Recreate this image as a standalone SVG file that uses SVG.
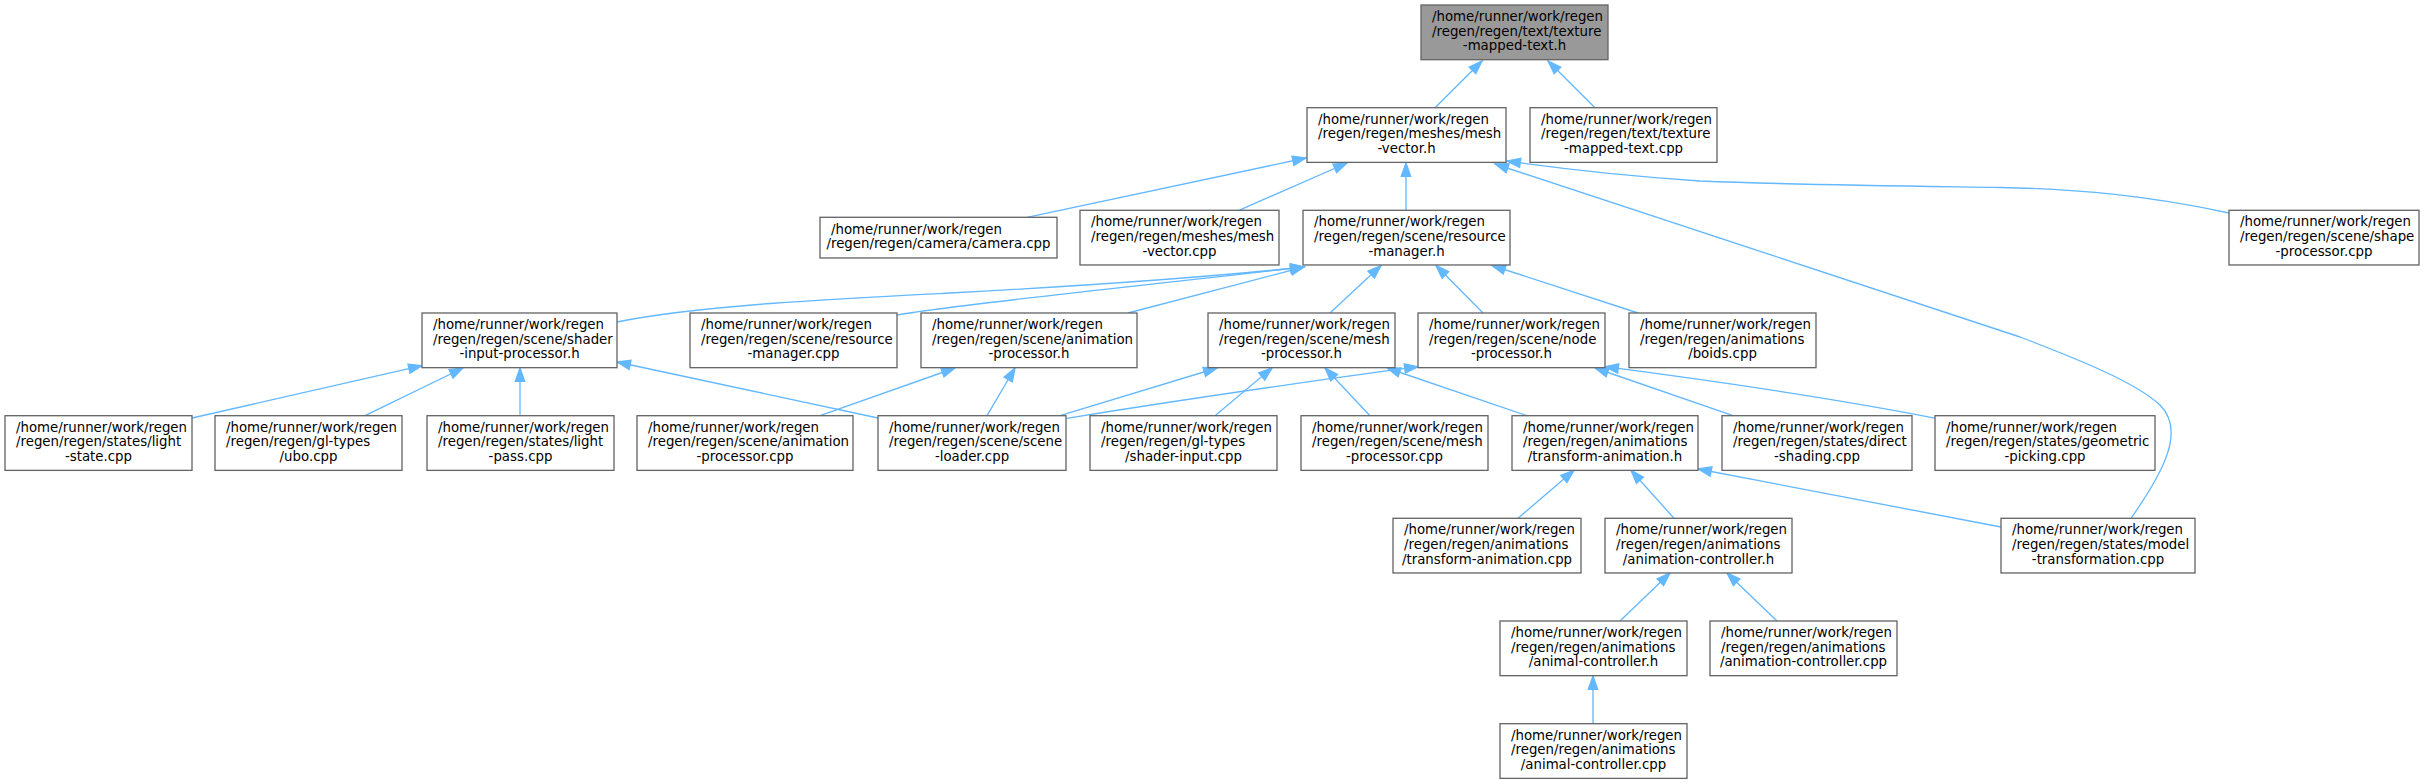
<svg xmlns="http://www.w3.org/2000/svg" width="2424" height="784" viewBox="0 0 2424 784">
<style>
.n rect{fill:#ffffff;stroke:#666666;stroke-width:1.33}
.root rect{fill:#999999}
text{font-family:"DejaVu Sans","Liberation Sans",sans-serif;font-size:13.33px;fill:#000000}
.s{text-anchor:start}
.m{text-anchor:middle}
#edges path{fill:none;stroke:#63b8ff;stroke-width:1.33;marker-end:url(#arr)}
</style>
<defs>
<marker id="arr" markerUnits="userSpaceOnUse" markerWidth="14" markerHeight="10" viewBox="0 0 14 10" refX="13.33" refY="5" orient="auto" overflow="visible">
<path d="M0,0.33 L13.33,5 L0,9.67 z" fill="#63b8ff" stroke="#63b8ff" stroke-width="1.33"/>
</marker>
</defs>
<rect width="2424" height="784" fill="#ffffff"/>
<g id="edges">
<path d="M1435,107.7 L1482,61"/>
<path d="M1595,107.7 L1548,61"/>
<path d="M1027,217.3 L1306,158"/>
<path d="M1239,210.3 L1347,163"/>
<path d="M1406,210.3 L1406,163"/>
<path d="M2229,213 C2150,196 2080,189 2000,187.5 C1900,186 1800,185 1700,181 C1640,177 1570,170 1507,161"/>
<path d="M2131,518.3 C2165,470 2185,430 2160,405 C2135,382 2080,360 2020,337 L1495,164"/>
<path d="M617,322 C700,305 850,298 950,293 C1100,285 1220,276 1304,267"/>
<path d="M897,315 C950,305 1150,285 1304,267"/>
<path d="M1128,313 L1304,267"/>
<path d="M1330,313 L1381,265.5"/>
<path d="M1483,313 L1436,265.5"/>
<path d="M1638,313 L1492,265.5"/>
<path d="M192,418 L422,365.7"/>
<path d="M365,415.7 L463,368"/>
<path d="M520,415.7 L520,368"/>
<path d="M878,418 L617,362"/>
<path d="M820,415.7 L955,368"/>
<path d="M987,415.7 L1015,368"/>
<path d="M1060,415.7 L1217,368"/>
<path d="M1215,415.7 L1272,368"/>
<path d="M1370,415.7 L1325,368"/>
<path d="M1527,415.7 L1387,368"/>
<path d="M1066.7,418.3 Q1230,392 1418,366.7"/>
<path d="M1733,415.7 L1595,368"/>
<path d="M1936,418.3 Q1800,392 1605,366.7"/>
<path d="M1518,518.3 L1574,470.3"/>
<path d="M1674,518.3 L1631,470.3"/>
<path d="M2001,527 L1698,469"/>
<path d="M1620,621 L1670,573"/>
<path d="M1777,621 L1727,573"/>
<path d="M1593,723.7 L1593,676"/>
</g>
<g id="n0" class="n root"><rect x="1421" y="5" width="187" height="54.67"/><text class="s" x="1432" y="21">/home/runner/work/regen</text><text class="s" x="1432" y="35.67">/regen/regen/text/texture</text><text class="m" x="1514.5" y="50.33">-mapped-text.h</text></g>
<g id="n1" class="n"><rect x="1307" y="107.7" width="199" height="54.67"/><text class="s" x="1318" y="123.7">/home/runner/work/regen</text><text class="s" x="1318" y="138.3">/regen/regen/meshes/mesh</text><text class="m" x="1406.5" y="153">-vector.h</text></g>
<g id="n2" class="n"><rect x="1530" y="107.7" width="187" height="54.67"/><text class="s" x="1541" y="123.7">/home/runner/work/regen</text><text class="s" x="1541" y="138.3">/regen/regen/text/texture</text><text class="m" x="1623.5" y="153">-mapped-text.cpp</text></g>
<g id="n3" class="n"><rect x="820" y="217.3" width="237" height="40.67"/><text class="s" x="831" y="233.7">/home/runner/work/regen</text><text class="m" x="938.5" y="248.3">/regen/regen/camera/camera.cpp</text></g>
<g id="n4" class="n"><rect x="1080" y="210.3" width="199" height="54.67"/><text class="s" x="1091" y="226.3">/home/runner/work/regen</text><text class="s" x="1091" y="241">/regen/regen/meshes/mesh</text><text class="m" x="1179.5" y="255.7">-vector.cpp</text></g>
<g id="n5" class="n"><rect x="1303" y="210.3" width="207" height="54.67"/><text class="s" x="1314" y="226.3">/home/runner/work/regen</text><text class="s" x="1314" y="241">/regen/regen/scene/resource</text><text class="m" x="1406.5" y="255.7">-manager.h</text></g>
<g id="n6" class="n"><rect x="2229" y="210.3" width="190" height="54.67"/><text class="s" x="2240" y="226.3">/home/runner/work/regen</text><text class="s" x="2240" y="241">/regen/regen/scene/shape</text><text class="m" x="2324" y="255.7">-processor.cpp</text></g>
<g id="n7" class="n"><rect x="422" y="313" width="195" height="54.67"/><text class="s" x="433" y="329">/home/runner/work/regen</text><text class="s" x="433" y="343.7">/regen/regen/scene/shader</text><text class="m" x="519.5" y="358.3">-input-processor.h</text></g>
<g id="n8" class="n"><rect x="690" y="313" width="207" height="54.67"/><text class="s" x="701" y="329">/home/runner/work/regen</text><text class="s" x="701" y="343.7">/regen/regen/scene/resource</text><text class="m" x="793.5" y="358.3">-manager.cpp</text></g>
<g id="n9" class="n"><rect x="921" y="313" width="216" height="54.67"/><text class="s" x="932" y="329">/home/runner/work/regen</text><text class="s" x="932" y="343.7">/regen/regen/scene/animation</text><text class="m" x="1029" y="358.3">-processor.h</text></g>
<g id="n10" class="n"><rect x="1208" y="313" width="187" height="54.67"/><text class="s" x="1219" y="329">/home/runner/work/regen</text><text class="s" x="1219" y="343.7">/regen/regen/scene/mesh</text><text class="m" x="1301.5" y="358.3">-processor.h</text></g>
<g id="n11" class="n"><rect x="1418" y="313" width="187" height="54.67"/><text class="s" x="1429" y="329">/home/runner/work/regen</text><text class="s" x="1429" y="343.7">/regen/regen/scene/node</text><text class="m" x="1511.5" y="358.3">-processor.h</text></g>
<g id="n12" class="n"><rect x="1629" y="313" width="187" height="54.67"/><text class="s" x="1640" y="329">/home/runner/work/regen</text><text class="s" x="1640" y="343.7">/regen/regen/animations</text><text class="m" x="1722.5" y="358.3">/boids.cpp</text></g>
<g id="n13" class="n"><rect x="5" y="415.7" width="187" height="54.67"/><text class="s" x="16" y="431.7">/home/runner/work/regen</text><text class="s" x="16" y="446.3">/regen/regen/states/light</text><text class="m" x="98.5" y="461">-state.cpp</text></g>
<g id="n14" class="n"><rect x="215" y="415.7" width="187" height="54.67"/><text class="s" x="226" y="431.7">/home/runner/work/regen</text><text class="s" x="226" y="446.3">/regen/regen/gl-types</text><text class="m" x="308.5" y="461">/ubo.cpp</text></g>
<g id="n15" class="n"><rect x="427" y="415.7" width="187" height="54.67"/><text class="s" x="438" y="431.7">/home/runner/work/regen</text><text class="s" x="438" y="446.3">/regen/regen/states/light</text><text class="m" x="520.5" y="461">-pass.cpp</text></g>
<g id="n16" class="n"><rect x="637" y="415.7" width="216" height="54.67"/><text class="s" x="648" y="431.7">/home/runner/work/regen</text><text class="s" x="648" y="446.3">/regen/regen/scene/animation</text><text class="m" x="745" y="461">-processor.cpp</text></g>
<g id="n17" class="n"><rect x="878" y="415.7" width="188" height="54.67"/><text class="s" x="889" y="431.7">/home/runner/work/regen</text><text class="s" x="889" y="446.3">/regen/regen/scene/scene</text><text class="m" x="972" y="461">-loader.cpp</text></g>
<g id="n18" class="n"><rect x="1090" y="415.7" width="187" height="54.67"/><text class="s" x="1101" y="431.7">/home/runner/work/regen</text><text class="s" x="1101" y="446.3">/regen/regen/gl-types</text><text class="m" x="1183.5" y="461">/shader-input.cpp</text></g>
<g id="n19" class="n"><rect x="1301" y="415.7" width="187" height="54.67"/><text class="s" x="1312" y="431.7">/home/runner/work/regen</text><text class="s" x="1312" y="446.3">/regen/regen/scene/mesh</text><text class="m" x="1394.5" y="461">-processor.cpp</text></g>
<g id="n20" class="n"><rect x="1512" y="415.7" width="186" height="54.67"/><text class="s" x="1523" y="431.7">/home/runner/work/regen</text><text class="s" x="1523" y="446.3">/regen/regen/animations</text><text class="m" x="1605" y="461">/transform-animation.h</text></g>
<g id="n21" class="n"><rect x="1722" y="415.7" width="190" height="54.67"/><text class="s" x="1733" y="431.7">/home/runner/work/regen</text><text class="s" x="1733" y="446.3">/regen/regen/states/direct</text><text class="m" x="1817" y="461">-shading.cpp</text></g>
<g id="n22" class="n"><rect x="1935" y="415.7" width="220" height="54.67"/><text class="s" x="1946" y="431.7">/home/runner/work/regen</text><text class="s" x="1946" y="446.3">/regen/regen/states/geometric</text><text class="m" x="2045" y="461">-picking.cpp</text></g>
<g id="n23" class="n"><rect x="1393" y="518.3" width="188" height="54.67"/><text class="s" x="1404" y="534.3">/home/runner/work/regen</text><text class="s" x="1404" y="549">/regen/regen/animations</text><text class="m" x="1487" y="563.7">/transform-animation.cpp</text></g>
<g id="n24" class="n"><rect x="1605" y="518.3" width="187" height="54.67"/><text class="s" x="1616" y="534.3">/home/runner/work/regen</text><text class="s" x="1616" y="549">/regen/regen/animations</text><text class="m" x="1698.5" y="563.7">/animation-controller.h</text></g>
<g id="n25" class="n"><rect x="2001" y="518.3" width="194" height="54.67"/><text class="s" x="2012" y="534.3">/home/runner/work/regen</text><text class="s" x="2012" y="549">/regen/regen/states/model</text><text class="m" x="2098" y="563.7">-transformation.cpp</text></g>
<g id="n26" class="n"><rect x="1500" y="621" width="187" height="54.67"/><text class="s" x="1511" y="637">/home/runner/work/regen</text><text class="s" x="1511" y="651.7">/regen/regen/animations</text><text class="m" x="1593.5" y="666.3">/animal-controller.h</text></g>
<g id="n27" class="n"><rect x="1710" y="621" width="187" height="54.67"/><text class="s" x="1721" y="637">/home/runner/work/regen</text><text class="s" x="1721" y="651.7">/regen/regen/animations</text><text class="m" x="1803.5" y="666.3">/animation-controller.cpp</text></g>
<g id="n28" class="n"><rect x="1500" y="723.7" width="187" height="54.67"/><text class="s" x="1511" y="739.7">/home/runner/work/regen</text><text class="s" x="1511" y="754.3">/regen/regen/animations</text><text class="m" x="1593.5" y="769">/animal-controller.cpp</text></g>
</svg>
